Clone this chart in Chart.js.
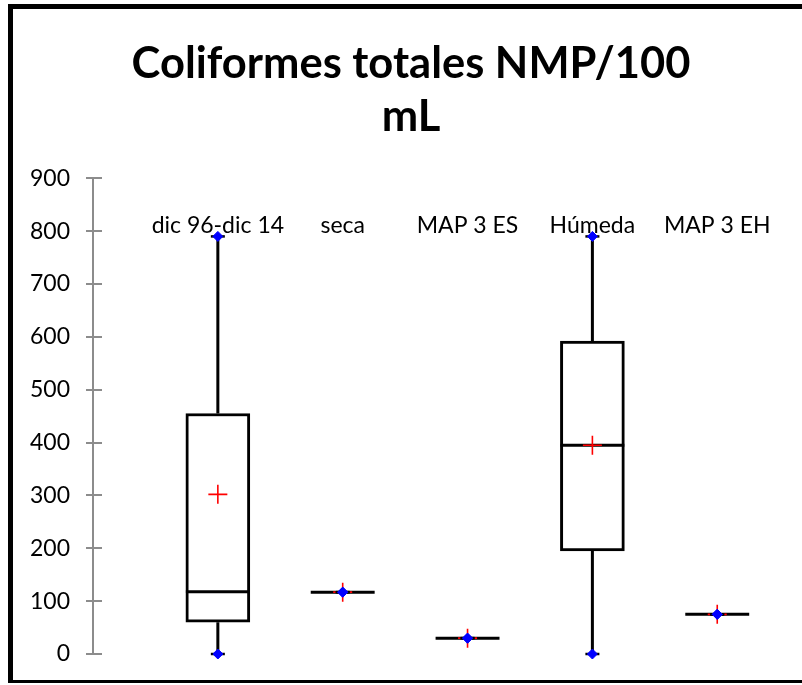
<!DOCTYPE html>
<html>
<head>
<meta charset="utf-8">
<script src="https://cdn.jsdelivr.net/npm/chart.js@4/dist/chart.umd.min.js"></script>
<style>
  html, body { margin: 0; padding: 0; background: #fff; overflow: hidden; }
  #wrap { position: relative; width: 802px; height: 685px; }
  #frame { position: absolute; left: 8px; top: 4px; width: 900px; height: 671px;
           border-left: 5px solid #000; border-top: 5px solid #000; border-bottom: 3px solid #000; }
  canvas { position: absolute; left: 0; top: 0; }
</style>
</head>
<body>
<div id="wrap">
  <canvas id="c" width="802" height="685"></canvas>
  <div id="frame"></div>
</div>
<script>
// ---- data ----
const categories = ['dic 96-dic 14', 'seca', 'MAP 3 ES', 'Húmeda', 'MAP 3 EH'];
const minimum = [0, 117, 30, 0, 75];
const q1      = [60, 117, 30, 195, 75];
const median  = [118, 117, 30, 395, 75];
const q3      = [455, 117, 30, 592, 75];
const maximum = [790, 117, 30, 790, 75];
const mean    = [302, 117, 30, 395, 75];
const yTicks  = [0, 100, 200, 300, 400, 500, 600, 700, 800, 900];
const title   = ['Coliformes totales NMP/100', 'mL'];

// ---- style constants ----
const HALF = 0.256;          // half box width in category units
const LABEL_LEVEL = 796;     // baseline of category labels (value units)
const FONT = 'Lato';

const pos = categories.map((_, i) => i + 1);

const boxData = [];
const whiskerData = [];
const medianData = [];
const capData = [];
const meanData = [];
pos.forEach((x, i) => {
  if (q3[i] > q1[i]) boxData.push({ x: x, y: [q1[i], q3[i]] });
  whiskerData.push({ x: x, y: minimum[i] }, { x: x, y: q1[i] }, { x: x, y: null },
                   { x: x, y: q3[i] }, { x: x, y: maximum[i] }, { x: x, y: null });
  medianData.push({ x: x - HALF, y: median[i] }, { x: x + HALF, y: median[i] }, { x: x, y: null });
  capData.push({ x: x, y: minimum[i] }, { x: x, y: maximum[i] });
  meanData.push({ x: x, y: mean[i] });
});

const catLabels = {
  id: 'catLabels',
  afterDatasetsDraw(chart) {
    const { ctx, scales } = chart;
    ctx.save();
    ctx.font = '23px ' + FONT;
    ctx.fillStyle = '#000';
    ctx.textAlign = 'center';
    ctx.textBaseline = 'alphabetic';
    categories.forEach((c, i) => {
      ctx.fillText(c, scales.x.getPixelForValue(pos[i]), scales.y.getPixelForValue(LABEL_LEVEL));
    });
    ctx.restore();
  }
};
const innerTicks = {
  id: 'innerTicks',
  beforeDatasetsDraw(chart) {
    const { ctx, scales } = chart;
    const x0 = scales.x.getPixelForValue(0);
    ctx.save();
    ctx.strokeStyle = '#8c8c8c';
    ctx.lineWidth = 2;
    yTicks.forEach(v => {
      const y = Math.round(scales.y.getPixelForValue(v));
      ctx.beginPath();
      ctx.moveTo(x0, y);
      ctx.lineTo(x0 + 9, y);
      ctx.stroke();
    });
    ctx.restore();
  }
};

new Chart(document.getElementById('c'), {
  type: 'scatter',
  data: {
    datasets: [
      { type: 'bar', data: boxData, backgroundColor: '#fff', borderColor: '#000', borderWidth: 3,
        borderSkipped: false, barThickness: 64, order: 5 },
      { type: 'line', data: whiskerData, borderColor: '#000', borderWidth: 3, pointRadius: 0,
        spanGaps: false, showLine: true, order: 4, clip: false },
      { type: 'line', data: medianData, borderColor: '#000', borderWidth: 3, pointRadius: 0,
        spanGaps: false, showLine: true, order: 3, clip: false },
      { data: meanData, pointStyle: 'cross', pointRadius: 9.5, pointBorderColor: '#ff0000',
        pointBorderWidth: 1.6, order: 2, clip: false },
      { data: capData, pointStyle: 'line', pointRadius: 7, pointBorderColor: '#000',
        pointBorderWidth: 2.5, order: 1, clip: false },
      { data: capData, pointStyle: 'rectRot', pointRadius: 5, pointBackgroundColor: '#0000ff',
        pointBorderColor: '#0000ff', pointBorderWidth: 1, order: 0, clip: false }
    ]
  },
  options: {
    responsive: false,
    animation: false,
    events: [],
    layout: { padding: { left: 20, right: 0, top: 0, bottom: 31 } },
    plugins: {
      legend: { display: false },
      tooltip: { enabled: false },
      title: {
        display: true,
        text: title,
        color: '#000',
        font: { family: FONT, size: 43.5, weight: 'bold', lineHeight: 1.21 },
        padding: { top: 38, bottom: 35 }
      }
    },
    scales: {
      x: {
        type: 'linear', display: false, offset: false, min: 0, max: 5.59
      },
      y: {
        min: 0, max: 900,
        afterFit(s) { s.width = 73; },
        afterBuildTicks(s) { s.ticks = yTicks.map(v => ({ value: v })); },
        ticks: { color: '#000', font: { family: FONT, size: 23 }, padding: 16 },
        grid: { drawOnChartArea: false, drawTicks: true, tickLength: 7, color: '#8c8c8c', lineWidth: 2 },
        border: { display: true, color: '#8c8c8c', width: 2 }
      }
    }
  },
  plugins: [catLabels, innerTicks]
});
</script>
</body>
</html>
